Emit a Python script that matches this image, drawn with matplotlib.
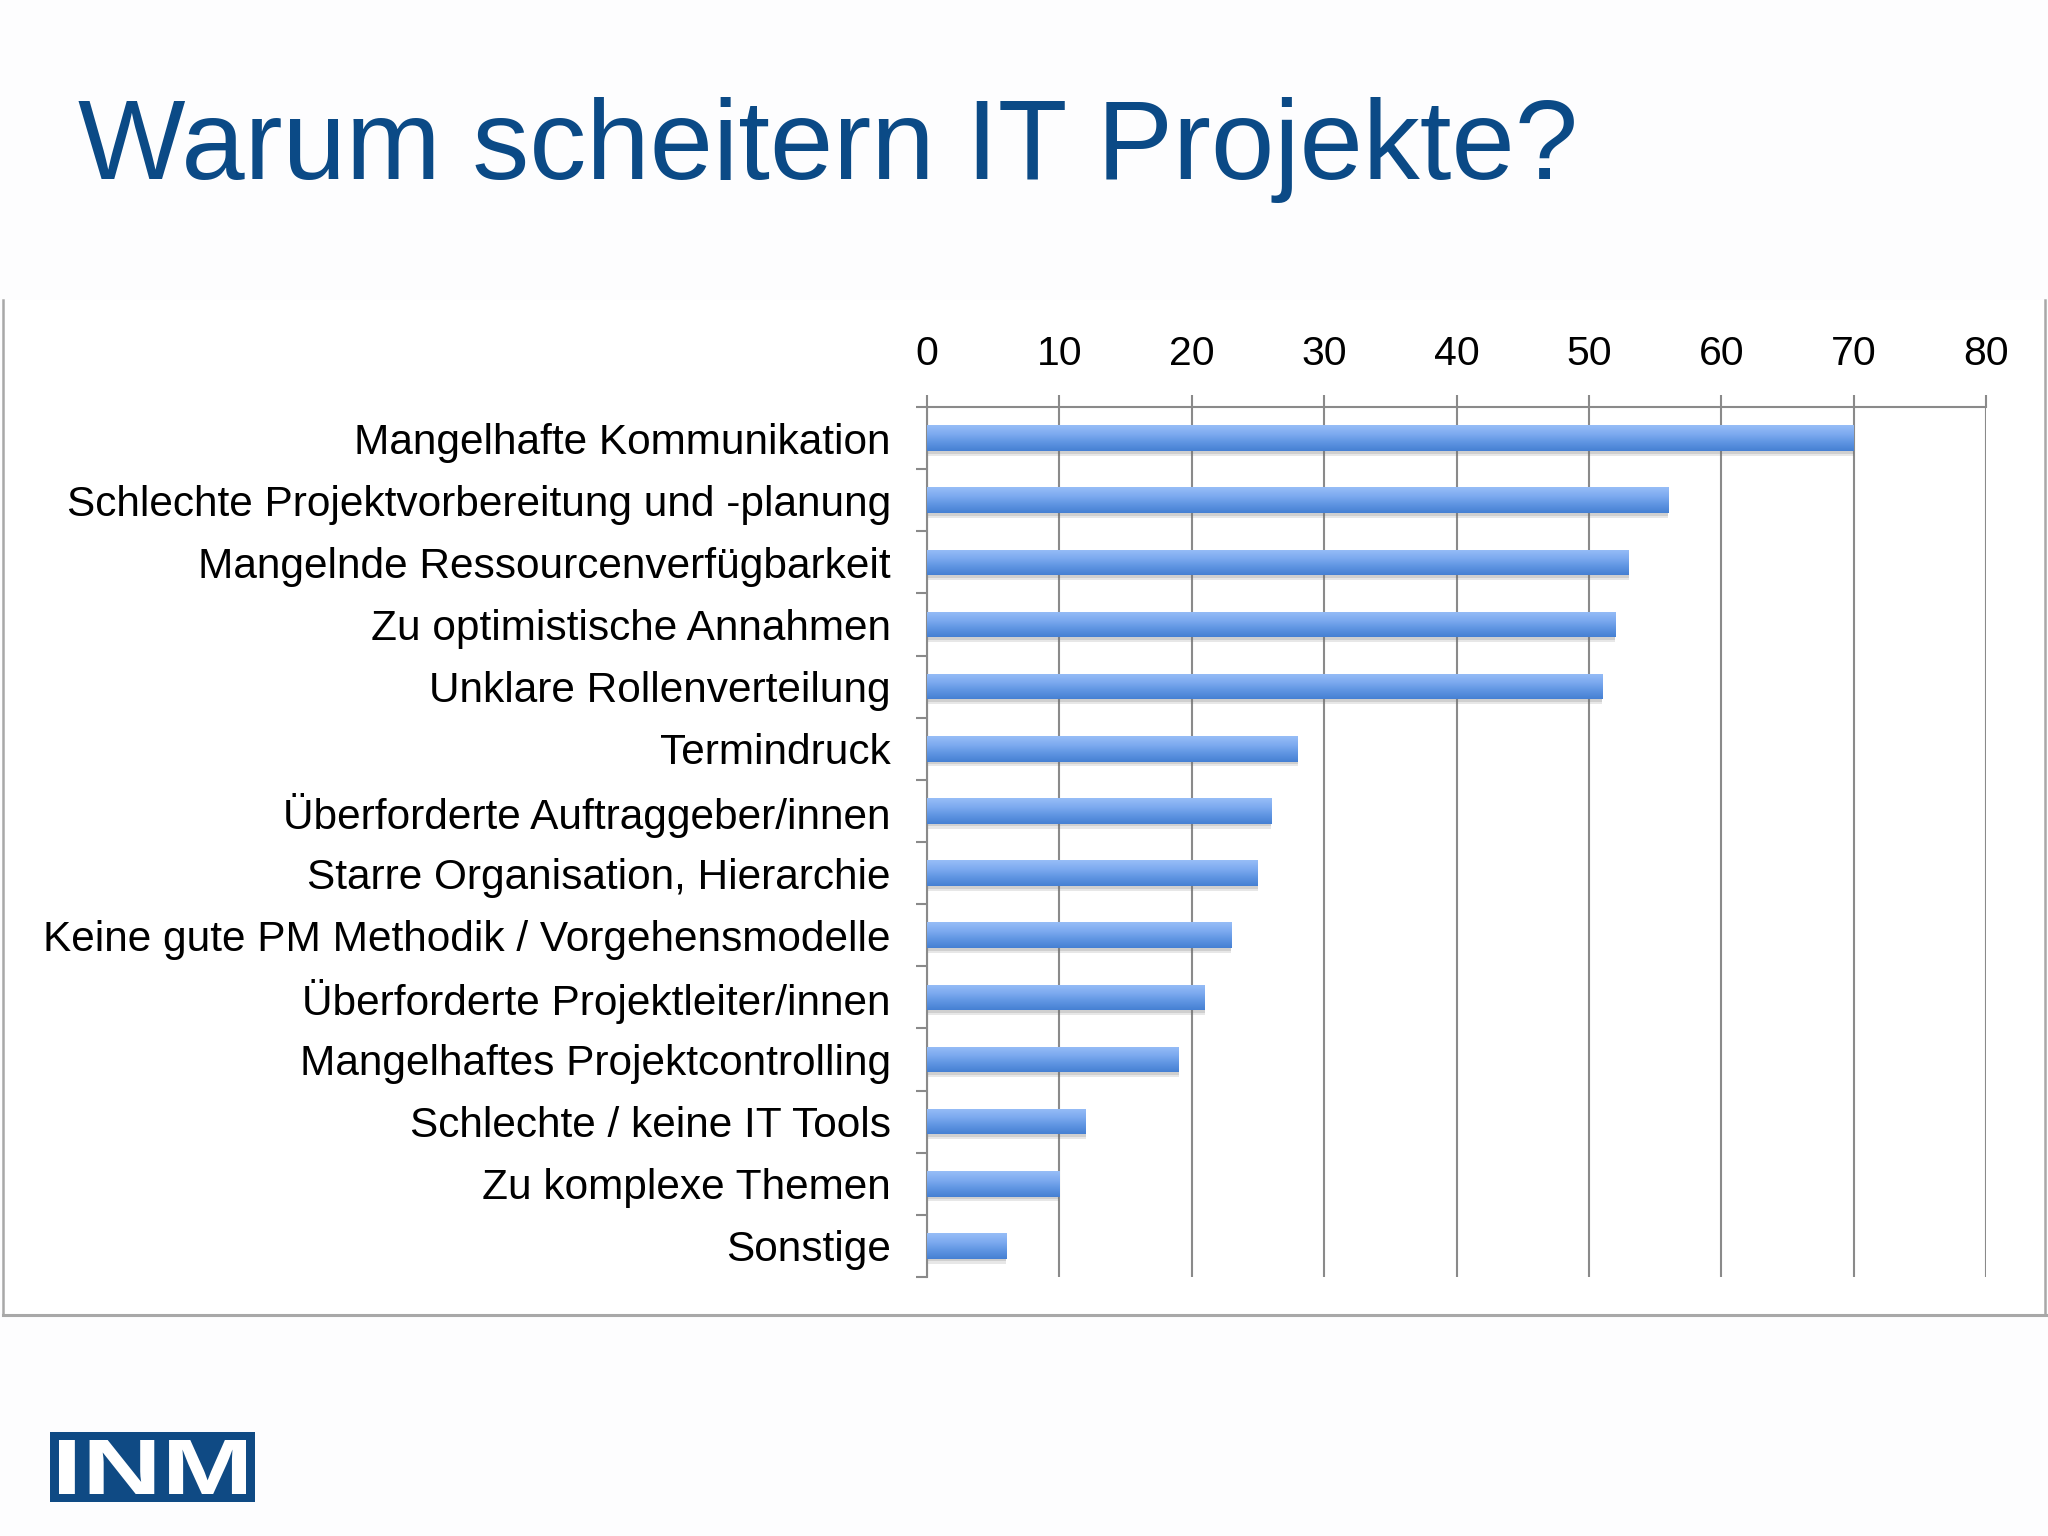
import numpy as np
import matplotlib
matplotlib.use("Agg")
import matplotlib.pyplot as plt
from matplotlib.lines import Line2D
from matplotlib.patches import Rectangle, PathPatch
from matplotlib.textpath import TextPath
from matplotlib.font_manager import FontProperties
from matplotlib.transforms import Affine2D
from matplotlib.colors import LinearSegmentedColormap

# ---- data ----
categories = [
    "Mangelhafte Kommunikation",
    "Schlechte Projektvorbereitung und -planung",
    "Mangelnde Ressourcenverfügbarkeit",
    "Zu optimistische Annahmen",
    "Unklare Rollenverteilung",
    "Termindruck",
    "Überforderte Auftraggeber/innen",
    "Starre Organisation, Hierarchie",
    "Keine gute PM Methodik / Vorgehensmodelle",
    "Überforderte Projektleiter/innen",
    "Mangelhaftes Projektcontrolling",
    "Schlechte / keine IT Tools",
    "Zu komplexe Themen",
    "Sonstige",
]
values = [70, 56, 53, 52, 51, 28, 26, 25, 23, 21, 19, 12, 10, 6]
x_ticks = [0, 10, 20, 30, 40, 50, 60, 70, 80]
title = "Warum scheitern IT Projekte?"
logo_text = "INM"

W, H = 2048, 1536
FONT = "Liberation Sans"
plt.rcParams['font.family'] = [FONT, 'DejaVu Sans']

fig = plt.figure(figsize=(W / 100, H / 100), dpi=100)
fig.patch.set_facecolor("#fdfdfe")

def fx(px):
    return px / W

def fy(py):
    return 1 - py / H

# chart panel frame (left, right, bottom)
frame_col = "#a8a8a8"
fig.add_artist(Rectangle((fx(3), fy(1315)), fx(2045) - fx(3), fy(300) - fy(1315),
                         transform=fig.transFigure, facecolor="white", edgecolor="none", zorder=0))
fig.add_artist(Line2D([fx(3), fx(3)], [fy(300), fy(1315)], transform=fig.transFigure,
                      color=frame_col, lw=1.8))
fig.add_artist(Line2D([fx(2045), fx(2045)], [fy(300), fy(1315)], transform=fig.transFigure,
                      color=frame_col, lw=1.8))
fig.add_artist(Line2D([fx(3), fx(2048)], [fy(1315), fy(1315)], transform=fig.transFigure,
                      color=frame_col, lw=2.2))

# title
fig.text(fx(78), fy(179), title, fontsize=82, color="#0b4a86", ha="left", va="baseline",
         family=FONT)

# axes
left, right, top, bottom = 927, 1986, 407, 1277
ax = fig.add_axes([fx(left), fy(bottom), fx(right) - fx(left), fy(top) - fy(bottom)])
ax.set_facecolor("none")

y = np.arange(len(categories))
bar_h = 0.41

# shadow
ax.barh(y + 0.08, values, height=bar_h, color="#6f6f6f", alpha=0.16, zorder=2, linewidth=0)
ax.barh(y + 0.045, values, height=bar_h, color="#6f6f6f", alpha=0.2, zorder=2, linewidth=0)
bars = ax.barh(y, values, height=bar_h, color="#6a9de6", zorder=3, linewidth=0)

cmap = LinearSegmentedColormap.from_list("bar", ["#97bdf7", "#7eabf0", "#5f95e2", "#4680d3"])
grad = np.linspace(0, 1, 64).reshape(-1, 1)
for b in bars:
    x0 = b.get_x()
    x1 = x0 + b.get_width()
    yt = b.get_y()
    yb = yt + b.get_height()
    im = ax.imshow(grad, cmap=cmap, aspect="auto", extent=(x0, x1, yb, yt),
                   origin="upper", zorder=4, interpolation="bilinear")
    im.set_clip_path(b)

ax.set_xlim(0, 80)
ax.set_ylim(len(categories) - 0.5, -0.5)

ax.xaxis.tick_top()
ax.set_xticks(x_ticks)
ax.set_xticklabels([str(t) for t in x_ticks], fontsize=29.5, family=FONT)
ax.tick_params(axis="x", which="major", length=8.6, width=1.5, color="#8a8a8a", pad=16)
ax.grid(axis="x", color="#8a8a8a", lw=1.5, zorder=1)
ax.set_axisbelow(True)

ax.set_yticks(y)
ax.set_yticklabels(categories, fontsize=30.5, family=FONT)
ax.tick_params(axis="y", which="major", length=0, pad=26)
ax.set_yticks(np.arange(-0.5, len(categories), 1.0), minor=True)
ax.tick_params(axis="y", which="minor", length=8, width=1.5, color="#8a8a8a")

for s in ["right", "bottom"]:
    ax.spines[s].set_visible(False)
for s in ["top", "left"]:
    ax.spines[s].set_color("#8a8a8a")
    ax.spines[s].set_linewidth(1.5)

# logo
logo_col = "#0f4a84"
lx0, lx1, ly0, ly1 = 50, 255, 1432, 1502
fig.add_artist(Rectangle((fx(lx0), fy(ly1)), fx(lx1) - fx(lx0), fy(ly0) - fy(ly1),
                         transform=fig.transFigure, facecolor=logo_col, edgecolor="none"))
tp = TextPath((0, 0), logo_text, size=100, prop=FontProperties(family=FONT, weight="bold"))
bb = tp.get_extents()
tx0, tx1, ty0, ty1 = lx0 + 9, lx1 - 9, ly0 + 8, ly1 - 8
sx = (tx1 - tx0) / bb.width
sy = (ty1 - ty0) / bb.height
tr = (Affine2D().translate(-bb.x0, -bb.y0).scale(sx / W, sy / H)
      .translate(fx(tx0), fy(ty1)) + fig.transFigure)
fig.add_artist(PathPatch(tp, transform=tr, facecolor="white", edgecolor="none"))

fig.savefig("out.png", dpi=100, facecolor=fig.get_facecolor())
